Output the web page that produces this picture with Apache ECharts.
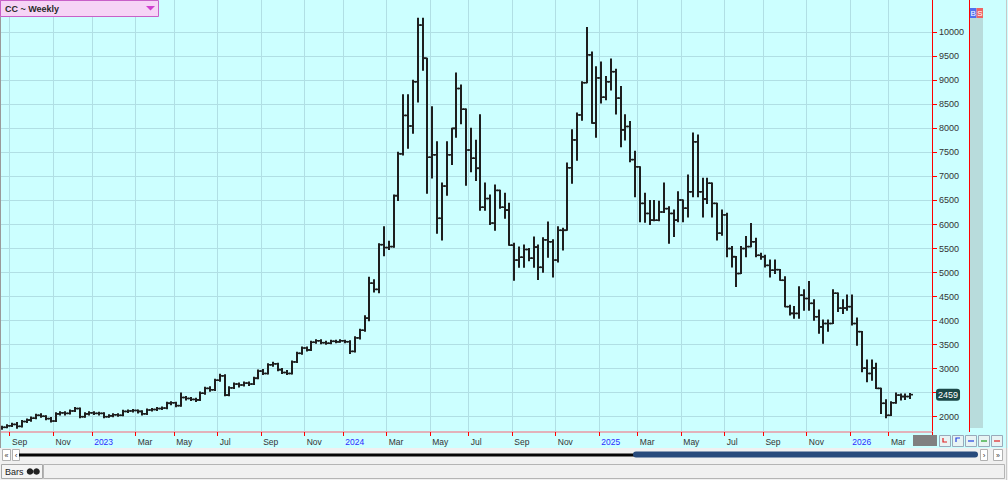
<!DOCTYPE html>
<html><head><meta charset="utf-8">
<script src="https://cdn.jsdelivr.net/npm/echarts@6/dist/echarts.min.js"></script>
<style>html,body{margin:0;padding:0;background:#ccffff;overflow:hidden}#c{width:1008px;height:480px}</style>
</head><body><div id="c"></div>
<script>
// ---- data (weekly bars, CC ~ Weekly) ----
const firstWeek = '2022-08-22';
const emptyWeeksAfter = 4;
const opens = [
1760,1780,1810,1840,1800,1900,1930,1970,2030,2010,
1960,1910,2060,2080,2070,2120,2170,2000,2060,2080,
2070,2070,2000,2020,2040,2030,2110,2120,2130,2110,
2060,2140,2150,2170,2180,2280,2290,2230,2400,2380,
2360,2350,2490,2590,2560,2760,2850,2450,2600,2680,
2660,2700,2680,2800,2950,2900,3080,3100,2980,2920,
2900,3140,3320,3430,3390,3550,3580,3540,3530,3570,
3560,3580,3560,3360,3640,3800,4050,4780,4650,5580,
5520,5540,6600,7470,8270,8050,8970,10150,9460,7400,
7450,6130,6800,7450,8000,8830,8400,7550,7380,7170,
6360,6540,6030,6710,6360,6300,5570,5260,5320,5480,
5300,5530,5110,5680,5640,5260,5880,5880,7180,7760,
8280,8950,9530,8110,9050,8650,8970,9180,8630,7970,
8040,7350,7200,6440,6230,6090,6090,6260,6330,6230,
6090,6510,6340,6680,7720,6680,6530,6860,6440,5820,
6200,5500,5330,4980,5500,5540,5640,5360,5330,5150,
5050,5060,4840,4290,4150,4150,4530,4460,4360,4080,
3870,3940,3940,4570,4260,4260,4290,3940,3770,3010,
2900,3010,2590,2280,2030,2290,2450,2420,2420];
const highs = [
1800,1830,1860,1880,1920,1950,1990,2050,2060,2020,
1980,2080,2100,2100,2140,2190,2180,2080,2100,2100,
2090,2080,2040,2060,2060,2130,2140,2150,2140,2120,
2160,2170,2190,2200,2300,2310,2300,2490,2420,2400,
2380,2510,2610,2620,2780,2880,2870,2620,2700,2700,
2720,2720,2820,2970,2980,3100,3130,3110,3000,2960,
3160,3340,3450,3450,3570,3600,3600,3570,3590,3590,
3600,3590,3580,3660,3820,4100,4900,4850,5600,5950,
5650,6610,7500,8700,8700,9000,10290,10290,9460,8450,
7720,6860,7720,8000,9150,8900,8400,8000,7750,8280,
6860,6610,6820,6710,6650,6440,5610,5530,5570,5500,
5740,5570,5720,6050,5680,5950,5920,7280,7970,8320,
8970,10100,9590,9280,9380,9080,9440,9230,8870,8280,
8140,7520,7200,6650,6500,6500,6480,6860,6370,6300,
6680,6510,7030,7900,7860,6960,6960,6860,6440,6300,
6230,5540,5330,5540,5750,6020,5710,5400,5360,5260,
5260,5060,4910,4320,4290,4700,4640,4810,4430,4220,
4010,4010,4640,4570,4430,4530,4530,4050,3770,3180,
3180,3110,2590,2350,2310,2490,2470,2470,2480];
const lows = [
1740,1770,1800,1760,1790,1880,1910,1960,1990,1940,
1890,1900,2040,2040,2060,2110,1980,1990,2040,2050,
2040,1980,1990,2000,2010,2020,2090,2100,2080,2040,
2050,2120,2130,2150,2170,2250,2210,2220,2350,2340,
2320,2340,2470,2530,2550,2740,2440,2440,2590,2620,
2640,2650,2670,2790,2880,2890,3050,2960,2900,2880,
2890,3130,3300,3370,3380,3530,3520,3510,3520,3540,
3550,3540,3320,3350,3620,3780,4000,4600,4580,5350,
5480,5530,6500,7450,7590,7900,8550,9210,6650,6970,
5820,5680,6610,7250,7820,8100,6820,7100,6920,6300,
6300,6000,5880,6340,6130,5570,4840,5110,5110,5250,
5110,4860,5010,5320,4910,5220,5470,5880,6860,7340,
8170,8950,8110,7820,8530,8600,8800,8300,7620,7760,
7310,6580,6060,6050,6000,6080,6080,6250,5610,5750,
6060,6060,6160,6580,6580,6160,6440,6160,5680,5780,
5330,5120,4710,4980,5330,5540,5330,5280,5120,4910,
4980,4840,4290,4120,4050,4050,4220,4220,4010,3740,
3530,3780,3940,4190,4150,4220,3910,3490,2940,2730,
2760,2590,2070,1980,2030,2280,2350,2360,2380];
const closes = [
1780,1810,1840,1800,1900,1930,1970,2030,2010,1960,
1910,2060,2080,2070,2120,2170,2000,2060,2080,2070,
2070,2000,2020,2040,2030,2110,2120,2130,2110,2060,
2140,2150,2170,2180,2280,2290,2230,2400,2380,2360,
2350,2490,2590,2560,2760,2850,2450,2600,2680,2660,
2700,2680,2800,2950,2900,3080,3100,2980,2920,2900,
3140,3320,3430,3390,3550,3580,3540,3530,3570,3560,
3580,3560,3360,3640,3800,4050,4780,4650,5580,5520,
5540,6600,7470,8270,8050,8970,10150,9460,7400,7450,
6130,6800,7450,8000,8830,8400,7550,7380,7170,6360,
6540,6030,6710,6360,6300,5570,5260,5320,5480,5300,
5530,5110,5680,5640,5260,5880,5880,7180,7760,8280,
8950,9530,8110,9050,8650,8970,9180,8630,7970,8040,
7350,7200,6440,6230,6090,6090,6260,6330,6230,6090,
6510,6340,6680,7720,6680,6530,6860,6440,5820,6200,
5500,5330,4980,5500,5540,5640,5360,5330,5150,5050,
5060,4840,4290,4150,4150,4530,4460,4360,4080,3870,
3940,3940,4570,4260,4260,4290,3940,3770,3010,2900,
3010,2590,2280,2030,2290,2450,2420,2420,2459];
const priceTicks = [2000,2500,3000,3500,4000,4500,5000,5500,6000,6500,7000,7500,8000,8500,9000,9500,10000];
const monthNames = ['Jan','Feb','Mar','Apr','May','Jun','Jul','Aug','Sep','Oct','Nov','Dec'];
const titleText = 'CC ~ Weekly';

// ---- derived ----
const DAY = 86400000;
const t0 = Date.parse(firstWeek + 'T00:00:00Z');
const nWeeks = closes.length + emptyWeeksAfter;
const weekDates = [];
for (let i = 0; i < nWeeks; i++) weekDates.push(new Date(t0 + i * 7 * DAY).toISOString().slice(0, 10));
function isMark(index) {
  const d = new Date(Date.parse(weekDates[index] + 'T00:00:00Z'));
  return d.getUTCDate() <= 7 && d.getUTCMonth() % 2 === 0;
}
function markLabel(value) {
  const d = new Date(Date.parse(value + 'T00:00:00Z'));
  const m = d.getUTCMonth();
  return m === 0 ? '{y|' + d.getUTCFullYear() + '}' : monthNames[m];
}
const ohlc = closes.map((c, i) => [i, opens[i], highs[i], lows[i], c]);
const lastClose = closes[closes.length - 1];
// the last-price flag covers the price label nearest to it
const labelTicks = priceTicks.filter(v => Math.abs(v - lastClose) > 150);

const barColor = '#1e1e1e';
const gridColor = '#b0dfe4';
const fontFam = 'Liberation Sans, Arial, sans-serif';

function renderOHLC(params, api) {
  const i = api.value(0);
  const pO = api.coord([i, api.value(1)]);
  const pH = api.coord([i, api.value(2)]);
  const pL = api.coord([i, api.value(3)]);
  const pC = api.coord([i, api.value(4)]);
  const x = Math.round(pH[0]);
  const tick = {stroke: barColor, lineWidth: 1.6};
  return {type: 'group', children: [
    {type: 'line', shape: {x1: x, y1: pH[1] - 0.6, x2: x, y2: pL[1] + 0.6}, style: {stroke: barColor, lineWidth: 2}},
    {type: 'line', shape: {x1: x - 3, y1: pO[1], x2: x, y2: pO[1]}, style: tick},
    {type: 'line', shape: {x1: x, y1: pC[1], x2: x + 3, y2: pC[1]}, style: tick}
  ]};
}

const chart = echarts.init(document.getElementById('c'), null, {renderer: 'svg', width: 1008, height: 480});
chart.setOption({
  animation: false,
  backgroundColor: '#ccffff',
  grid: {left: 0, right: 76, top: 0, bottom: 48, containLabel: false},
  xAxis: {
    type: 'category', data: weekDates, boundaryGap: true,
    axisLine: {show: true, lineStyle: {color: '#e2b2ba', width: 2}},
    axisTick: {show: true, length: 4, interval: isMark, lineStyle: {color: '#ff0000', width: 1}},
    axisLabel: {interval: isMark, formatter: markLabel, color: '#333333', fontSize: 8.5, fontFamily: fontFam,
      align: 'left', margin: 5, rich: {y: {color: '#2b2bff', fontSize: 8.5, fontFamily: fontFam}}},
    splitLine: {show: true, interval: isMark, lineStyle: {color: gridColor, width: 1}}
  },
  yAxis: {
    type: 'value', position: 'right', min: 1682, max: 10672,
    axisLine: {show: true, lineStyle: {color: '#ff0000', width: 1}},
    axisTick: {show: true, length: 5, customValues: priceTicks, lineStyle: {color: '#ff0000', width: 1}},
    axisLabel: {customValues: labelTicks, formatter: v => String(v), color: '#333333', fontSize: 9, fontFamily: fontFam, margin: 7, padding: [0, 0, 6, 0]},
    splitLine: {show: false},
    axisPointer: {
      show: true, type: 'line', value: lastClose, status: 'show', triggerTooltip: false,
      lineStyle: {color: 'transparent', width: 0},
      label: {show: true, formatter: () => String(lastClose), color: '#ffffff', backgroundColor: '#1b4848',
        padding: [2, 2, 1, 2], fontSize: 9, fontFamily: fontFam, margin: 4, shadowBlur: 0}
    }
  },
  series: [
    {
      type: 'line', data: [], z: 1, silent: true,
      markLine: {
        silent: true, symbol: ['none', 'none'], animation: false,
        label: {show: false},
        lineStyle: {color: gridColor, width: 1, type: 'solid'},
        data: priceTicks.map(v => ({yAxis: v}))
      }
    },
    {
      type: 'custom', name: 'CC', data: ohlc, z: 5, silent: true,
      encode: {x: 0, y: [1, 2, 3, 4]},
      renderItem: renderOHLC
    }
  ],
  graphic: [
    {type: 'line', shape: {x1: 0.5, y1: 0, x2: 0.5, y2: 480}, style: {stroke: '#9a9a9a', lineWidth: 1}, z: 50},
    {type: 'rect', shape: {x: 0.5, y: 0.5, width: 158, height: 16}, style: {fill: '#f6d4f6', stroke: '#c860c8', lineWidth: 1}, z: 50},
    {type: 'text', x: 5, y: 9, style: {text: titleText, font: 'bold 9px ' + fontFam, fill: '#2a2a2a', verticalAlign: 'middle'}, z: 51},
    {type: 'polygon', shape: {points: [[146, 6], [155, 6], [150.5, 10.5]]}, style: {fill: '#d040d0'}, z: 51},
    {type: 'line', shape: {x1: 969.5, y1: 0, x2: 969.5, y2: 432}, style: {stroke: '#ff0000', lineWidth: 1}, z: 50},
    {type: 'rect', shape: {x: 970, y: 18, width: 13, height: 410}, style: {fill: '#b8dcdc'}, z: 50},
    {type: 'rect', shape: {x: 970, y: 8, width: 6.5, height: 10}, style: {fill: '#4f6ff0'}, z: 50},
    {type: 'rect', shape: {x: 976.5, y: 8, width: 6.5, height: 10}, style: {fill: '#ef6464'}, z: 50},
    {type: 'text', x: 973.2, y: 13.2, style: {text: 'B', font: '8px ' + fontFam, fill: '#ffffff', align: 'center', verticalAlign: 'middle'}, z: 51},
    {type: 'text', x: 979.8, y: 13.2, style: {text: 'S', font: '8px ' + fontFam, fill: '#ffffff', align: 'center', verticalAlign: 'middle'}, z: 51},
    {type: 'rect', shape: {x: 913, y: 435, width: 24, height: 11}, style: {fill: '#808080'}, z: 50},
    {type: 'rect', shape: {x: 939.5, y: 435.5, width: 11, height: 11}, style: {fill: '#e8f4f4', stroke: '#9ab'}, z: 50},
    {type: 'rect', shape: {x: 952.5, y: 435.5, width: 11, height: 11}, style: {fill: '#e8f4f4', stroke: '#9ab'}, z: 50},
    {type: 'rect', shape: {x: 965.5, y: 435.5, width: 11, height: 11}, style: {fill: '#e8f4f4', stroke: '#9ab'}, z: 50},
    {type: 'rect', shape: {x: 978.5, y: 435.5, width: 11, height: 11}, style: {fill: '#e8f4f4', stroke: '#9ab'}, z: 50},
    {type: 'rect', shape: {x: 991.5, y: 435.5, width: 11, height: 11}, style: {fill: '#e8f4f4', stroke: '#9ab'}, z: 50},
    {type: 'polyline', shape: {points: [[943, 438], [943, 442], [947, 442]]}, style: {stroke: '#e02020', lineWidth: 1.2}, z: 51},
    {type: 'polyline', shape: {points: [[956, 442], [956, 438], [960, 438]]}, style: {stroke: '#2040e0', lineWidth: 1.2}, z: 51},
    {type: 'line', shape: {x1: 968, y1: 441, x2: 974, y2: 441}, style: {stroke: '#2040e0', lineWidth: 1.2}, z: 51},
    {type: 'line', shape: {x1: 981, y1: 441, x2: 987, y2: 441}, style: {stroke: '#20a020', lineWidth: 1.2}, z: 51},
    {type: 'line', shape: {x1: 994, y1: 441, x2: 1000, y2: 441}, style: {stroke: '#e02020', lineWidth: 1.2}, z: 51},
    {type: 'rect', shape: {x: 0, y: 448, width: 1008, height: 15}, style: {fill: '#f0f0f0'}, z: 50},
    {type: 'rect', shape: {x: 2.5, y: 449.5, width: 8, height: 11}, style: {fill: '#ffffff', stroke: '#b0b0b0'}, z: 51},
    {type: 'text', x: 6.5, y: 455, style: {text: '«', font: '7px ' + fontFam, fill: '#333', align: 'center', verticalAlign: 'middle'}, z: 52},
    {type: 'rect', shape: {x: 12.5, y: 449.5, width: 7, height: 11}, style: {fill: '#ffffff', stroke: '#b0b0b0'}, z: 51},
    {type: 'text', x: 16, y: 455, style: {text: '‹', font: '8px ' + fontFam, fill: '#333', align: 'center', verticalAlign: 'middle'}, z: 52},
    {type: 'rect', shape: {x: 19, y: 453.5, width: 615, height: 3}, style: {fill: '#050505'}, z: 51},
    {type: 'rect', shape: {x: 633, y: 451.5, width: 345, height: 6, r: 3}, style: {fill: '#274a7c'}, z: 52},
    {type: 'rect', shape: {x: 980.5, y: 449.5, width: 7, height: 11}, style: {fill: '#ffffff', stroke: '#b0b0b0'}, z: 51},
    {type: 'text', x: 984, y: 455, style: {text: '›', font: '8px ' + fontFam, fill: '#333', align: 'center', verticalAlign: 'middle'}, z: 52},
    {type: 'rect', shape: {x: 993.5, y: 449.5, width: 9, height: 11}, style: {fill: '#ffffff', stroke: '#b0b0b0'}, z: 51},
    {type: 'text', x: 998, y: 455, style: {text: '»', font: '7px ' + fontFam, fill: '#333', align: 'center', verticalAlign: 'middle'}, z: 52},
    {type: 'rect', shape: {x: 0, y: 463, width: 1008, height: 17}, style: {fill: '#f0f0f0'}, z: 50},
    {type: 'rect', shape: {x: 1.5, y: 464.5, width: 41, height: 14}, style: {fill: '#f4f4f4', stroke: '#a8a8a8'}, z: 51},
    {type: 'text', x: 5, y: 472, style: {text: 'Bars', font: '9px ' + fontFam, fill: '#222', verticalAlign: 'middle'}, z: 52},
    {type: 'circle', shape: {cx: 30, cy: 471.5, r: 3.3}, style: {fill: '#222'}, z: 52},
    {type: 'circle', shape: {cx: 36.5, cy: 471.5, r: 3.3}, style: {fill: '#222'}, z: 52},
    {type: 'rect', shape: {x: 43.5, y: 464.5, width: 961, height: 14}, style: {fill: '#f0f0f0', stroke: '#b4b4b4'}, z: 51},
    {type: 'line', shape: {x1: 1006.5, y1: 0, x2: 1006.5, y2: 480}, style: {stroke: '#c8c8c8', lineWidth: 1}, z: 53}
  ]
});
</script>
</body></html>
